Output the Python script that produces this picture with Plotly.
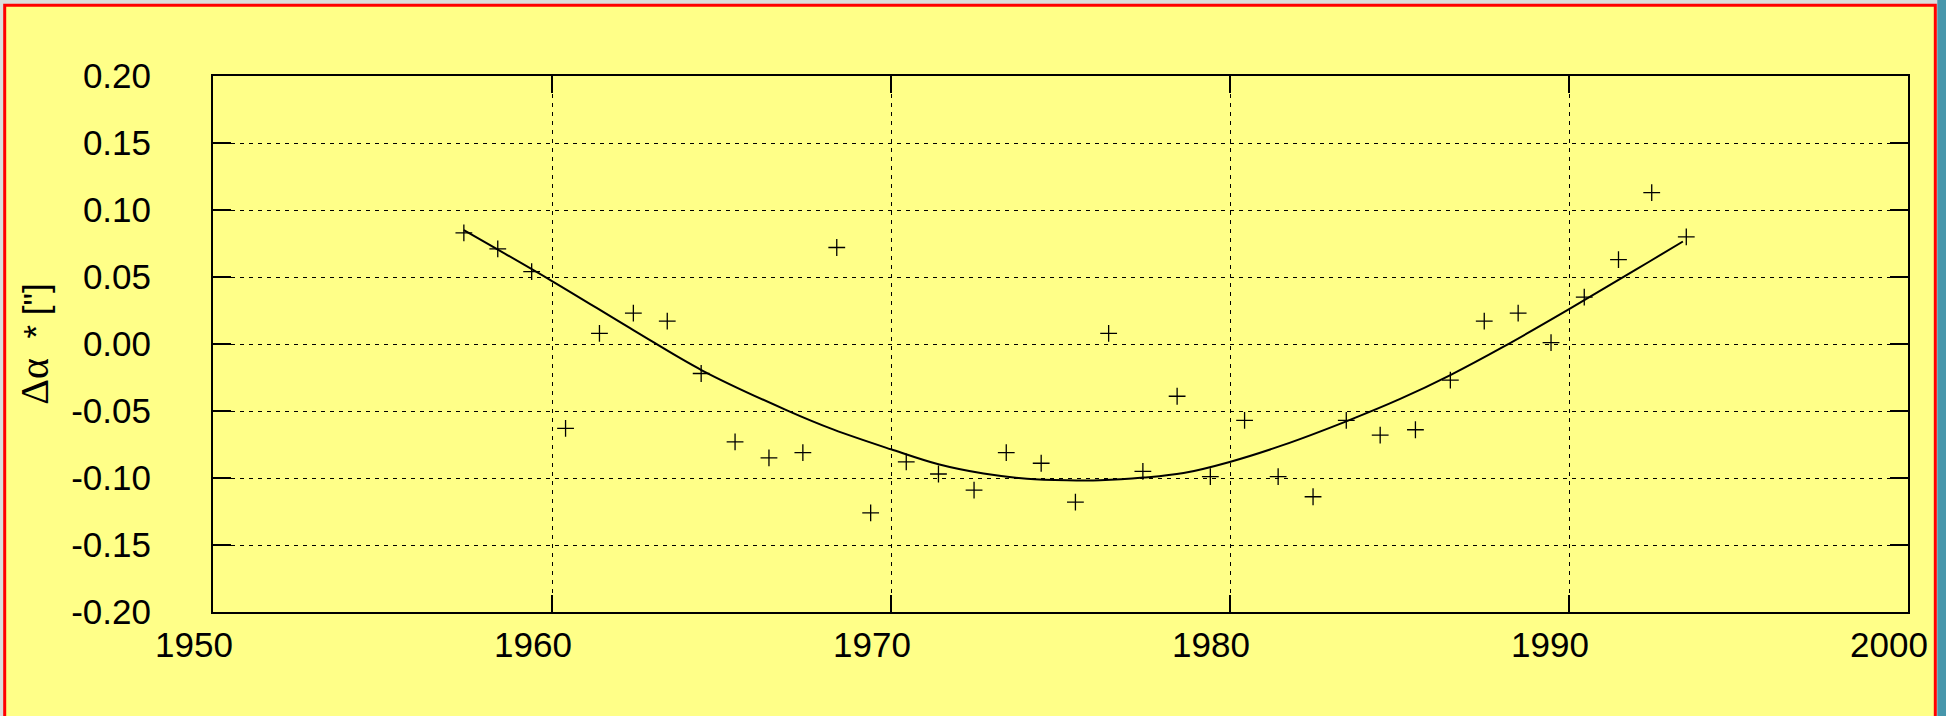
import plotly.graph_objects as go

# measured points (epoch, delta alpha* in arcsec)
years = [1957.4, 1958.4, 1959.4, 1960.4, 1961.4, 1962.4, 1963.4, 1964.4, 1965.4, 1966.4,
         1967.4, 1968.4, 1969.4, 1970.45, 1971.4, 1972.45, 1973.4, 1974.43, 1975.44, 1976.42,
         1977.43, 1978.44, 1979.42, 1980.43, 1981.42, 1982.45, 1983.43, 1984.43, 1985.47, 1986.5,
         1987.5, 1988.5, 1989.47, 1990.45, 1991.46, 1992.44, 1993.46]
d_alpha = [0.083, 0.071, 0.054, -0.063, 0.008, 0.023, 0.017, -0.022, -0.073, -0.085,
           -0.081, 0.072, -0.126, -0.088, -0.097, -0.109, -0.081, -0.089, -0.118, 0.008,
           -0.095, -0.039, -0.099, -0.057, -0.099, -0.114, -0.057, -0.068, -0.064, -0.027,
           0.017, 0.023, 0.001, 0.035, 0.063, 0.113, 0.080]

# fitted curve
fit_years = [1957.4, 1960.0, 1962.41, 1964.42, 1966.93, 1968.31, 1970.0, 1971.4, 1972.73, 1974.01,
             1975.19, 1976.17, 1977.45, 1978.63, 1979.99, 1981.58, 1983.43, 1985.02, 1986.5, 1988.07,
             1989.99, 1991.41, 1992.35, 1993.36]
fit_values = [0.085, 0.047, 0.0102, -0.0196, -0.0495, -0.0639, -0.0786, -0.0898, -0.0967, -0.1005,
              -0.1017, -0.1017, -0.0997, -0.0963, -0.088, -0.0753, -0.0577, -0.041, -0.0232, -0.002,
              0.0258, 0.0471, 0.0612, 0.0765]

x_ticks = [1950, 1960, 1970, 1980, 1990, 2000]
y_ticks = [-0.20, -0.15, -0.10, -0.05, 0.00, 0.05, 0.10, 0.15, 0.20]
y_labels = ['-0.20', '-0.15', '-0.10', '-0.05', '0.00', '0.05', '0.10', '0.15', '0.20']

W, H = 1946, 716
L, R, T, B = 213, 1908, 76, 612

def px(x):
    return (x - L) / (R - L)

def py(y):
    return (B - y) / (B - T)

YELLOW = '#FFFF88'
FONT = 'Arial, Liberation Sans, sans-serif'

fig = go.Figure()
fig.add_trace(go.Scatter(x=fit_years, y=fit_values, mode='lines',
                         line=dict(color='black', width=2, shape='spline', smoothing=1),
                         showlegend=False, hoverinfo='skip'))
fig.add_trace(go.Scatter(x=years, y=d_alpha, mode='markers',
                         marker=dict(symbol='cross-thin', size=12, color='black',
                                     line=dict(width=1.3, color='black')),
                         showlegend=False))

fig.update_layout(
    width=W, height=H,
    margin=dict(l=L, r=W - R, t=T, b=H - B, autoexpand=False),
    paper_bgcolor='#dcdcdc',
    plot_bgcolor=YELLOW,
    font=dict(family=FONT, color='black', size=35),
    shapes=[
        dict(type='rect', xref='paper', yref='paper', layer='below',
             x0=px(4.7), x1=px(1935.3), y0=py(740), y1=py(5.3),
             fillcolor=YELLOW, line=dict(color='#ff0000', width=3)),
        dict(type='rect', xref='paper', yref='paper', layer='below',
             x0=px(1937.3), x1=px(1960), y0=py(740), y1=py(-20),
             fillcolor='#4796ab', line=dict(width=0)),
    ],
    xaxis=dict(
        range=[1950, 2000], tickvals=x_ticks, ticktext=[str(v) for v in x_ticks],
        ticks='inside', ticklen=17, tickwidth=2, tickcolor='black',
        showline=True, linewidth=2, linecolor='black', mirror='ticks',
        showgrid=True, gridcolor='black', gridwidth=1, griddash='4px,5px',
        zeroline=False, ticklabelstandoff=1, ticklabelshift=-19,
        tickfont=dict(family=FONT, size=35, color='black'),
    ),
    yaxis=dict(
        range=[-0.2, 0.2], tickvals=y_ticks, ticktext=y_labels,
        ticks='inside', ticklen=18, tickwidth=2, tickcolor='black',
        showline=True, linewidth=2, linecolor='black', mirror='ticks',
        showgrid=True, gridcolor='black', gridwidth=1, griddash='4px,5px',
        zeroline=False, ticklabelstandoff=53,
        tickfont=dict(family=FONT, size=35, color='black'),
        title=dict(
            text='<span style="font-family:Liberation Serif, Times New Roman, serif;font-size:40px">\u0394\u03b1</span>'
                 '\u00a0\u00a0*\u00a0["]',
            font=dict(family=FONT, size=35, color='black'),
            standoff=12,
        ),
    ),
)

fig.write_html('out.html', config={'displayModeBar': False},
               post_script="document.body.style.margin='0';")
